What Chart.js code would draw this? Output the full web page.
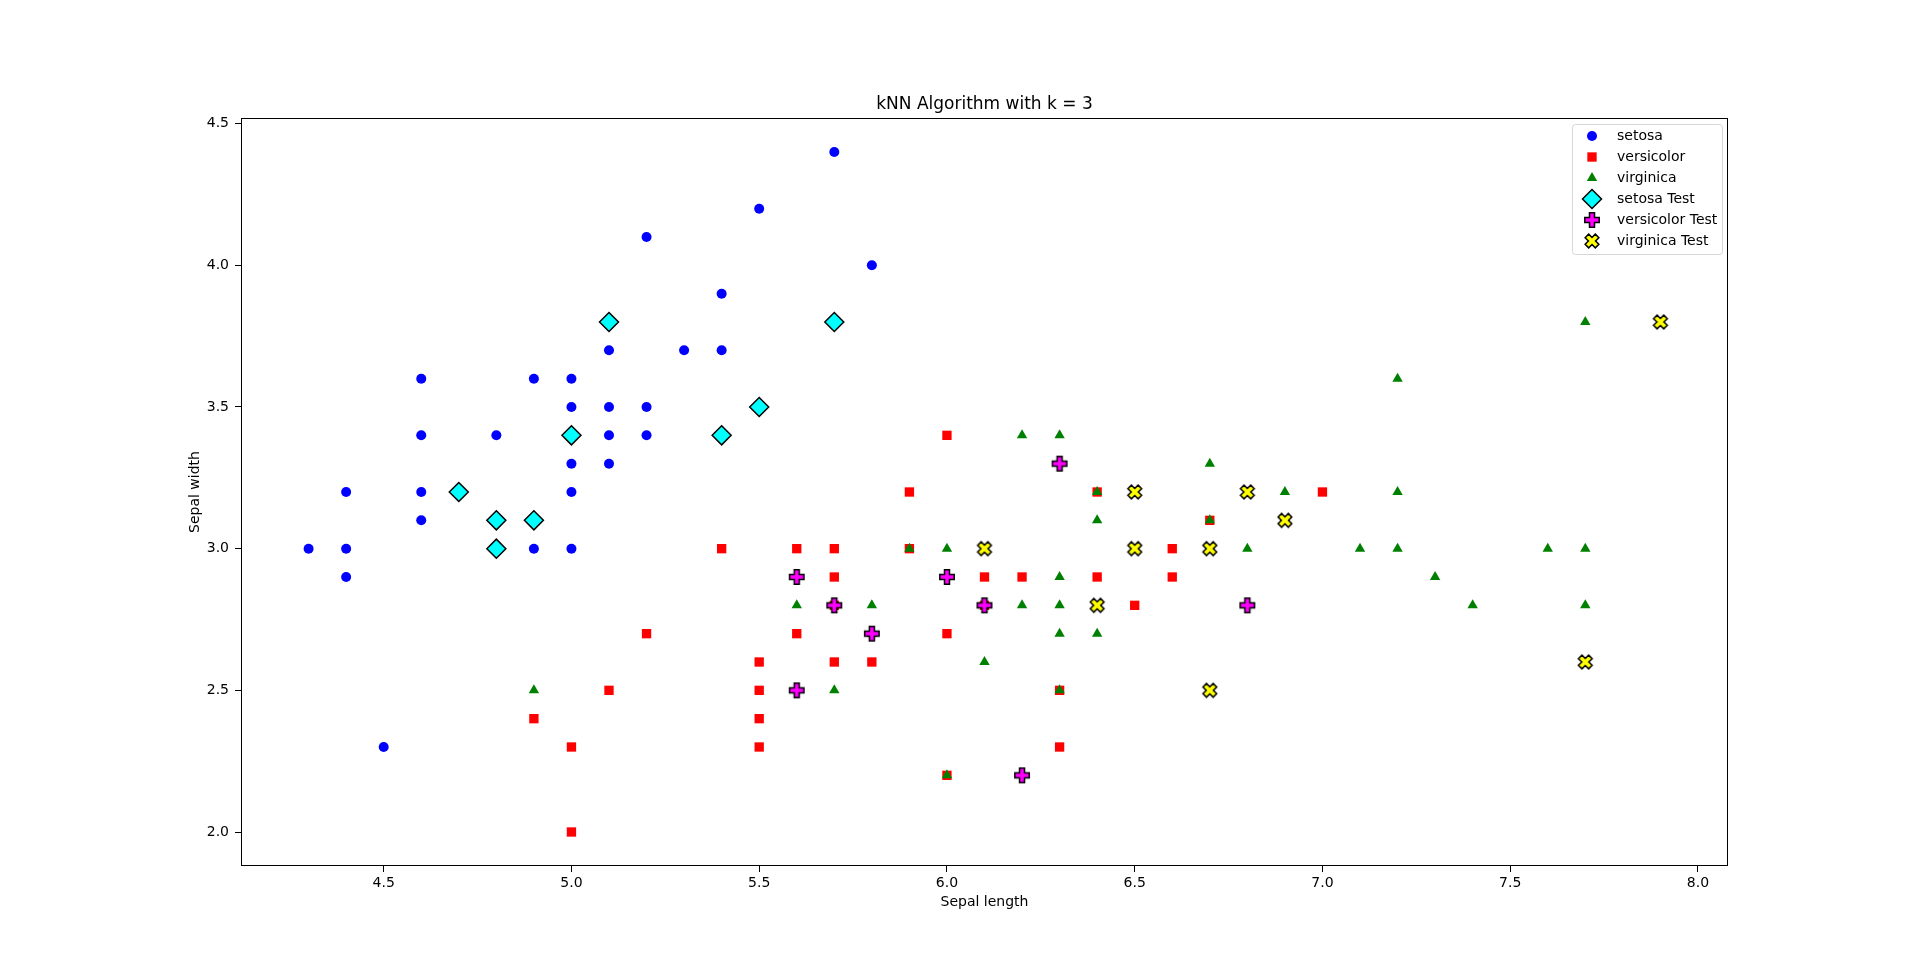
<!DOCTYPE html>
<html>
<head>
<meta charset="utf-8">
<title>kNN Algorithm with k = 3</title>
<script src="https://cdn.jsdelivr.net/npm/chart.js@4.4.0/dist/chart.umd.min.js"></script>
<style>
  html, body { margin: 0; padding: 0; background: #fff; }
  #knn { display: block; }
</style>
</head>
<body>
<canvas id="knn" width="1920" height="973"></canvas>
<script>
'use strict';

// training points (sepal length / sepal width)
const setosaX = [4.3, 4.4, 4.4, 4.4, 4.5, 4.6, 4.6, 4.6, 4.6, 4.8, 4.9, 4.9, 5.0, 5.0, 5.0, 5.0, 5.0, 5.1, 5.1, 5.1, 5.1, 5.2, 5.2, 5.2, 5.3, 5.4, 5.4, 5.5, 5.7, 5.8];
const setosaY = [3.0, 3.2, 3.0, 2.9, 2.3, 3.6, 3.4, 3.2, 3.1, 3.4, 3.6, 3.0, 3.6, 3.5, 3.3, 3.2, 3.0, 3.7, 3.5, 3.4, 3.3, 4.1, 3.5, 3.4, 3.7, 3.9, 3.7, 4.2, 4.4, 4.0];

const versicolorX = [4.9, 5.0, 5.0, 5.1, 5.2, 5.4, 5.5, 5.5, 5.5, 5.5, 5.6, 5.6, 5.7, 5.7, 5.7, 5.7, 5.8, 5.9, 5.9, 6.0, 6.0, 6.0, 6.1, 6.1, 6.2, 6.3, 6.3, 6.4, 6.4, 6.5, 6.6, 6.6, 6.7, 7.0];
const versicolorY = [2.4, 2.3, 2.0, 2.5, 2.7, 3.0, 2.6, 2.5, 2.4, 2.3, 3.0, 2.7, 3.0, 2.9, 2.8, 2.6, 2.6, 3.2, 3.0, 3.4, 2.7, 2.2, 2.9, 2.8, 2.9, 2.5, 2.3, 3.2, 2.9, 2.8, 3.0, 2.9, 3.1, 3.2];

const virginicaX = [4.9, 5.6, 5.7, 5.8, 5.8, 5.9, 6.0, 6.0, 6.1, 6.2, 6.2, 6.3, 6.3, 6.3, 6.3, 6.3, 6.4, 6.4, 6.4, 6.7, 6.7, 6.8, 6.9, 7.1, 7.2, 7.2, 7.2, 7.3, 7.4, 7.6, 7.7, 7.7, 7.7];
const virginicaY = [2.5, 2.8, 2.5, 2.8, 2.7, 3.0, 3.0, 2.2, 2.6, 3.4, 2.8, 3.4, 2.9, 2.8, 2.7, 2.5, 3.2, 3.1, 2.7, 3.3, 3.1, 3.0, 3.2, 3.0, 3.6, 3.2, 3.0, 2.9, 2.8, 3.0, 3.8, 3.0, 2.8];

// test points, coloured by predicted class
const setosaTestX = [4.7, 4.8, 4.8, 4.9, 5.0, 5.1, 5.4, 5.5, 5.7];
const setosaTestY = [3.2, 3.1, 3.0, 3.1, 3.4, 3.8, 3.4, 3.5, 3.8];

const versicolorTestX = [5.6, 5.6, 5.7, 5.8, 6.0, 6.1, 6.2, 6.3, 6.8];
const versicolorTestY = [2.9, 2.5, 2.8, 2.7, 2.9, 2.8, 2.2, 3.3, 2.8];

const virginicaTestX = [6.1, 6.4, 6.5, 6.5, 6.7, 6.7, 6.8, 6.9, 7.7, 7.9];
const virginicaTestY = [3.0, 2.8, 3.2, 3.0, 3.0, 2.5, 3.2, 3.1, 2.6, 3.8];

const seriesNames = ['setosa', 'versicolor', 'virginica', 'setosa Test', 'versicolor Test', 'virginica Test'];
const xTicks = [4.5, 5.0, 5.5, 6.0, 6.5, 7.0, 7.5, 8.0];
const yTicks = [2.0, 2.5, 3.0, 3.5, 4.0, 4.5];

const FONT = 'DejaVu Sans';

// filled plus / filled x markers with a black edge (like matplotlib 'P' and 'X')
function makeMarker(kind, color) {
  const size = 22;
  const c = document.createElement('canvas');
  c.width = size; c.height = size;
  const g = c.getContext('2d');
  const h = 7.2, t = 2.5;
  const pts = [[-t, -h], [t, -h], [t, -t], [h, -t], [h, t], [t, t], [t, h], [-t, h], [-t, t], [-h, t], [-h, -t], [-t, -t]];
  g.translate(size / 2, size / 2);
  if (kind === 'x') g.rotate(Math.PI / 4);
  g.beginPath();
  pts.forEach((p, i) => i ? g.lineTo(p[0], p[1]) : g.moveTo(p[0], p[1]));
  g.closePath();
  g.fillStyle = color;
  g.fill();
  g.lineWidth = 1.5;
  g.strokeStyle = '#000';
  g.stroke();
  return c;
}

const plusMarker = makeMarker('plus', '#ff00ff');
const xMarker = makeMarker('x', '#ffff00');

const toPoints = (xs, ys) => xs.map((x, i) => ({x: x, y: ys[i]}));

const styles = [
  {bg: '#0000ff', border: '#0000ff', pointStyle: 'circle', radius: 5, bw: 0},
  {bg: '#ff0000', border: '#ff0000', pointStyle: 'rect', radius: 6.6, bw: 0},
  {bg: '#008000', border: '#008000', pointStyle: 'triangle', radius: 6, bw: 0},
  {bg: '#00ffff', border: '#000000', pointStyle: 'rectRot', radius: 9.5, bw: 1.5},
  {bg: '#ff00ff', border: '#000000', pointStyle: plusMarker, radius: 8, bw: 0},
  {bg: '#ffff00', border: '#000000', pointStyle: xMarker, radius: 8, bw: 0}
];

const seriesData = [
  toPoints(setosaX, setosaY),
  toPoints(versicolorX, versicolorY),
  toPoints(virginicaX, virginicaY),
  toPoints(setosaTestX, setosaTestY),
  toPoints(versicolorTestX, versicolorTestY),
  toPoints(virginicaTestX, virginicaTestY)
];

const datasets = seriesData.map((pts, i) => ({
  label: seriesNames[i],
  data: pts,
  backgroundColor: styles[i].bg,
  borderColor: styles[i].border,
  borderWidth: styles[i].bw,
  pointStyle: styles[i].pointStyle,
  pointRadius: styles[i].radius,
  pointHoverRadius: styles[i].radius,
  order: seriesData.length - 1 - i   // later series drawn on top
}));

function drawLegendMarker(ctx, s, x, y) {
  ctx.save();
  if (typeof s.pointStyle !== 'string') {
    ctx.drawImage(s.pointStyle, x - s.pointStyle.width / 2, y - s.pointStyle.height / 2);
    ctx.restore();
    return;
  }
  const r = s.radius;
  ctx.beginPath();
  if (s.pointStyle === 'circle') {
    ctx.arc(x, y, r, 0, Math.PI * 2);
  } else if (s.pointStyle === 'rect') {
    const a = r * Math.SQRT1_2;
    ctx.rect(x - a, y - a, 2 * a, 2 * a);
  } else if (s.pointStyle === 'triangle') {
    ctx.moveTo(x, y - r);
    ctx.lineTo(x + r * 0.866, y + r / 2);
    ctx.lineTo(x - r * 0.866, y + r / 2);
    ctx.closePath();
  } else {
    ctx.moveTo(x - r, y); ctx.lineTo(x, y - r); ctx.lineTo(x + r, y); ctx.lineTo(x, y + r);
    ctx.closePath();
  }
  ctx.fillStyle = s.bg;
  ctx.fill();
  if (s.bw > 0) {
    ctx.lineWidth = s.bw;
    ctx.strokeStyle = s.border;
    ctx.stroke();
  }
  ctx.restore();
}

// axes frame + matplotlib style legend box
const frameAndLegend = {
  id: 'frameAndLegend',
  afterDraw(chart) {
    const {ctx, chartArea: a} = chart;
    ctx.save();
    ctx.strokeStyle = '#000';
    ctx.lineWidth = 1;
    ctx.strokeRect(Math.round(a.left) + 0.5, Math.round(a.top) + 0.5,
      Math.round(a.right - a.left) - 1, Math.round(a.bottom - a.top) - 1);

    const w = 150, h = 130;
    const bx = a.right - w - 6, by = a.top + 6;
    ctx.beginPath();
    ctx.roundRect(bx + 0.5, by + 0.5, w, h, 3);
    ctx.fillStyle = 'rgba(255,255,255,0.8)';
    ctx.fill();
    ctx.strokeStyle = '#d6d6d6';
    ctx.stroke();

    ctx.font = '14px "' + FONT + '"';
    ctx.fillStyle = '#000';
    ctx.textBaseline = 'middle';
    ctx.textAlign = 'left';
    seriesNames.forEach((name, i) => {
      const yy = by + 12 + i * 21;
      drawLegendMarker(ctx, styles[i], bx + 20, yy);
      ctx.fillStyle = '#000';
      ctx.fillText(name, bx + 45, yy);
    });
    ctx.restore();
  }
};

Chart.defaults.color = '#000';
Chart.defaults.font.family = FONT;

new Chart(document.getElementById('knn'), {
  type: 'scatter',
  data: {datasets: datasets},
  plugins: [frameAndLegend],
  options: {
    responsive: false,
    animation: false,
    devicePixelRatio: 1,
    events: [],
    layout: {padding: {left: 0, right: 192, top: 0, bottom: 0}},
    plugins: {
      legend: {display: false},
      tooltip: {enabled: false},
      title: {
        display: true,
        fullSize: false,
        text: 'kNN Algorithm with k = 3',
        color: '#000',
        font: {family: FONT, size: 17, weight: 'normal'},
        padding: {top: 94.5, bottom: 3.1}
      }
    },
    scales: {
      x: {
        type: 'linear',
        min: 4.12,
        max: 8.08,
        afterBuildTicks: s => { s.ticks = xTicks.map(v => ({value: v})); },
        afterFit: s => { s.height = 107; s.paddingLeft = 0; s.paddingRight = 0; },
        ticks: {
          callback: v => v.toFixed(1),
          font: {family: FONT, size: 14},
          color: '#000',
          padding: 3,
          maxRotation: 0,
          autoSkip: false
        },
        grid: {drawOnChartArea: false, drawTicks: true, tickLength: 6, tickColor: '#000', tickWidth: 1},
        border: {display: false},
        title: {
          display: true,
          text: 'Sepal length',
          color: '#000',
          font: {family: FONT, size: 14},
          padding: {top: 0, bottom: 62.6}
        }
      },
      y: {
        type: 'linear',
        min: 1.88,
        max: 4.52,
        afterBuildTicks: s => { s.ticks = yTicks.map(v => ({value: v})); },
        afterFit: s => { s.width = 241; s.paddingTop = 0; s.paddingBottom = 0; },
        ticks: {
          callback: v => v.toFixed(1),
          font: {family: FONT, size: 14},
          color: '#000',
          padding: 6,
          autoSkip: false
        },
        grid: {drawOnChartArea: false, drawTicks: true, tickLength: 6, tickColor: '#000', tickWidth: 1},
        border: {display: false},
        title: {
          display: true,
          text: 'Sepal width',
          color: '#000',
          font: {family: FONT, size: 14},
          padding: {top: 186.6, bottom: 0}
        }
      }
    }
  }
});
</script>
</body>
</html>
